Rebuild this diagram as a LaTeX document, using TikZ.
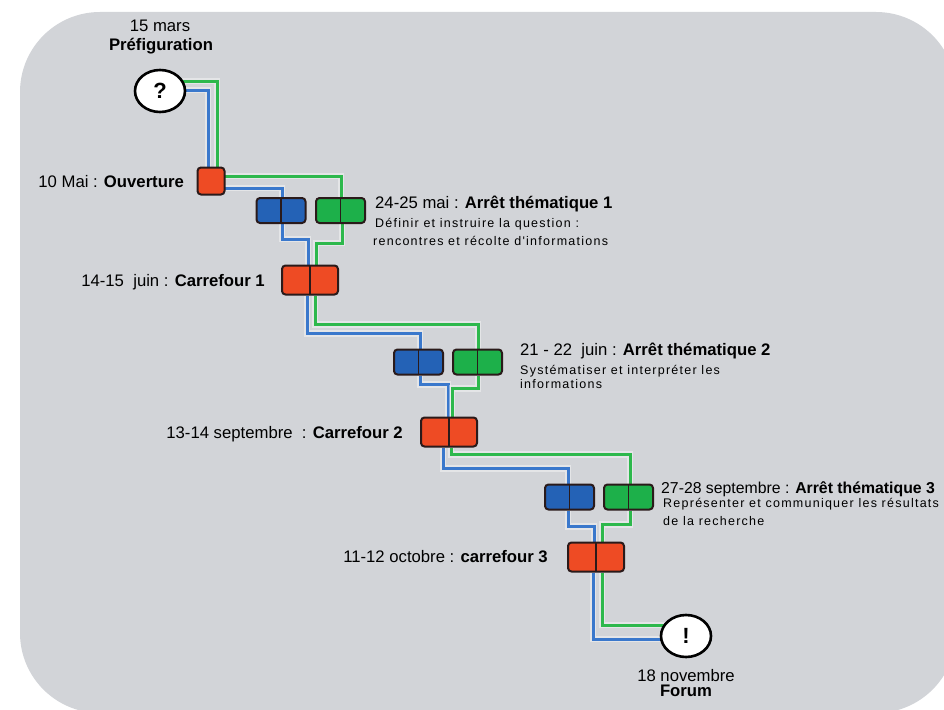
\documentclass[tikz,border=0pt]{standalone}
\usepackage{fontspec}
\setmainfont{Liberation Sans}
\newfontfamily\descfont[LetterSpace=10]{Liberation Sans}
\usetikzlibrary{backgrounds,calc,shapes.geometric}
\definecolor{bgc}{HTML}{D2D4D8}
\definecolor{lineblue}{HTML}{3A78CC}
\definecolor{linegreen}{HTML}{2DB84C}
\definecolor{boxblue}{HTML}{2462B6}
\definecolor{boxgreen}{HTML}{1DB04A}
\definecolor{redc}{HTML}{EE4B24}
\definecolor{bord}{HTML}{2A1A1A}
\tikzset{
  box/.style={draw=bord, line width=2pt, rounded corners=3.5pt, inner sep=0pt},
  single/.style={box, fill=redc, minimum width=27pt, minimum height=27pt},
  duo/.style={box, minimum width=49pt, minimum height=25pt,
    path picture={\draw[bord, line width=1.6pt] (path picture bounding box.north) -- (path picture bounding box.south);}},
  bluebox/.style={duo, fill=boxblue},
  greenbox/.style={duo, fill=boxgreen},
  crossbox/.style={duo, fill=redc, minimum width=56pt, minimum height=29pt},
  milestone/.style={ellipse, draw=black, line width=2.6pt, fill=white, minimum width=50pt, minimum height=42pt, inner sep=0pt, font=\fontsize{22}{22}\selectfont\bfseries},
  bl/.style={preaction={draw=white, draw opacity=0.4, line width=6.5pt}, draw=lineblue, line width=3pt},
  gl/.style={preaction={draw=white, draw opacity=0.4, line width=6.5pt}, draw=linegreen, line width=3pt},
  ttl/.style={font=\fontsize{16.7}{19}\selectfont, inner sep=0pt},
  desc/.style={font=\descfont\fontsize{12.5}{17}\selectfont, inner sep=0pt},
}
\begin{document}
\begin{tikzpicture}[x=1pt, y=-1pt]
\useasboundingbox (0,0) rectangle (944,709);

% nodes
\node[milestone] (q) at (160,91) {?};
\node[single] (O) at (211,181) {};
\node[bluebox] (A1b) at (281,210.5) {};
\node[greenbox] (A1g) at (340.5,210.5) {};
\node[crossbox] (C1) at (310,280) {};
\node[bluebox] (A2b) at (418.5,362) {};
\node[greenbox] (A2g) at (477.5,362) {};
\node[crossbox] (C2) at (449,432) {};
\node[bluebox] (A3b) at (569.5,497) {};
\node[greenbox] (A3g) at (628.5,497) {};
\node[crossbox] (C3) at (596,557) {};
\node[milestone] (F) at (686,636) {!};

% labels
\node[ttl, anchor=base] (tq1) at (160,32) {15 mars};
\node[ttl, anchor=base] (tq2) at (161,51) {\textbf{Préfiguration}};
\node[ttl, anchor=base east] (tO) at (184,187) {10 Mai : \textbf{Ouverture}};
\node[ttl, anchor=base east] (tC1) at (265,286) {14-15 \ juin : \textbf{Carrefour 1}};
\node[ttl, anchor=base east] (tC2) at (403,438) {13-14 septembre \ : \textbf{Carrefour 2}};
\node[ttl, anchor=base east] (tC3) at (548,562) {11-12 octobre : \textbf{carrefour 3}};
\node[ttl, anchor=base] (tF1) at (686,681) {18 novembre};
\node[ttl, anchor=base] (tF2) at (686,696) {\textbf{Forum}};

\node[ttl, anchor=base west] (tA1) at (375,208) {24-25 mai : \textbf{Arrêt thématique 1}};
\node[desc, anchor=base west] (dA1a) at (375,227) {Définir et instruire la question :};
\node[desc, anchor=base west] (dA1b) at (373,245) {rencontres et récolte d'informations};

\node[ttl, anchor=base west] (tA2) at (520,355) {21 - 22 \ juin : \textbf{Arrêt thématique 2}};
\node[desc, anchor=base west] (dA2a) at (520,374) {Systématiser et interpréter les};
\node[desc, anchor=base west] (dA2b) at (520,388) {informations};

\node[ttl, font=\fontsize{15.8}{19}\selectfont, anchor=base west] (tA3) at (661,493) {27-28 septembre : \textbf{Arrêt thématique 3}};
\node[desc, anchor=base west] (dA3a) at (663,507) {Représenter et communiquer les résultats};
\node[desc, anchor=base west] (dA3b) at (663,525) {de la recherche};

\begin{scope}[on background layer]
\fill[bgc, rounded corners=80pt] (20,12) rectangle (956,713);
% q -> O
\draw[gl] ([yshift=10pt]q.center) -| ([xshift=6pt]O.center);
\draw[bl] ([yshift=1pt]q.center) -| ([xshift=-3pt]O.center);
% O -> A1
\draw[gl] ([yshift=5pt]O.center) -| ([xshift=0.5pt]A1g.center);
\draw[bl] ([yshift=-7pt]O.center) -| ([xshift=1pt]A1b.center);
% A1 -> C1
\draw[bl] ([xshift=1pt]A1b.south) -- ++(0,15) -| ([xshift=-2pt]C1.center);
\draw[gl] ([xshift=1.5pt]A1g.south) -- ++(0,19) -| ([xshift=6pt]C1.center);
% C1 -> A2
\draw[bl] ([xshift=-3pt]C1.south) -- ++(0,38) -| ([xshift=1.5pt]A2b.center);
\draw[gl] ([xshift=5pt]C1.south) -- ++(0,29) -| ([xshift=0.5pt]A2g.center);
% A2 -> C2
\draw[bl] ([xshift=1.5pt]A2b.south) -- ++(0,9) -| ([xshift=-1pt]C2.center);
\draw[gl] ([xshift=0.5pt]A2g.south) -- ++(0,13) -| ([xshift=3pt]C2.center);
% C2 -> A3
\draw[gl] ([xshift=2pt]C2.south) -- ++(0,7) -| ([xshift=1.5pt]A3g.center);
\draw[bl] ([xshift=-6pt]C2.south) -- ++(0,21) -| ([xshift=-1.5pt]A3b.center);
% A3 -> C3
\draw[bl] ([xshift=-1.5pt]A3b.south) -- ++(0,16) -| ([xshift=-2pt]C3.center);
\draw[gl] ([xshift=1.5pt]A3g.south) -- ++(0,14) -| ([xshift=6pt]C3.center);
% C3 -> F
\draw[bl] ([xshift=-3pt]C3.south) |- ([yshift=-3pt]F.center);
\draw[gl] ([xshift=6pt]C3.south) |- ([yshift=11pt]F.center);
\end{scope}
\end{tikzpicture}
\end{document}
